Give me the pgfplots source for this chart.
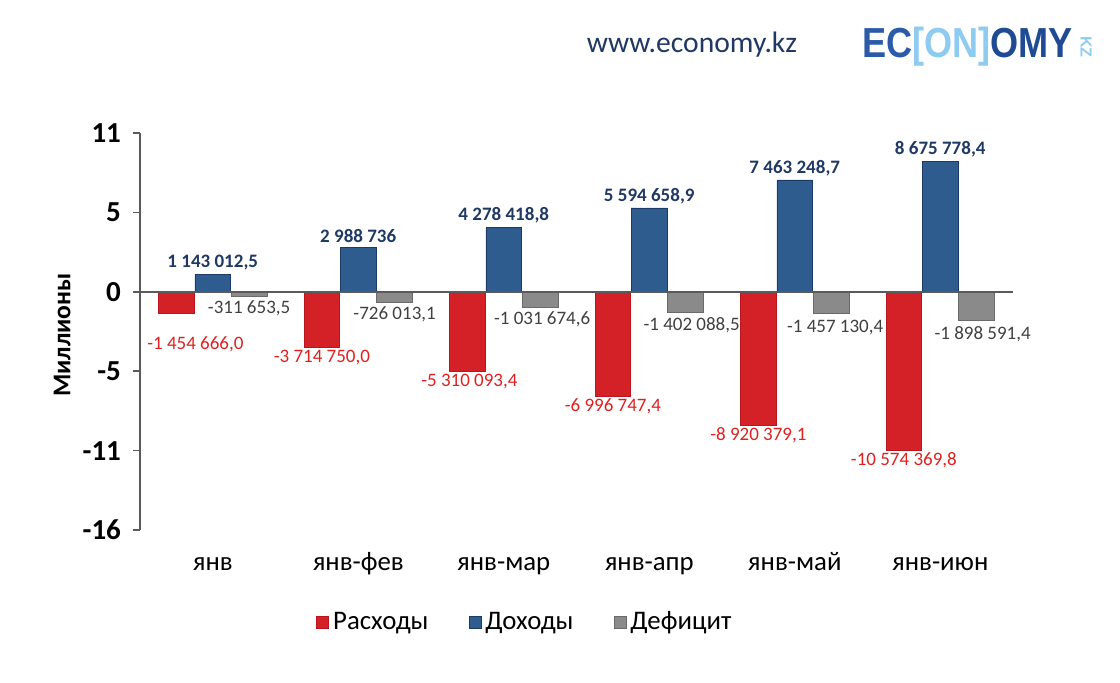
\documentclass[border=0pt]{standalone}
\usepackage{pgfplots}
\pgfplotsset{compat=1.18}
\usepackage{pgfplotstable}
\usepackage{fontspec}
\setmainfont{Carlito}
\newfontfamily\logofont{Liberation Sans}
\definecolor{barred}{HTML}{D42027}
\definecolor{barredline}{HTML}{B8161C}
\definecolor{barblue}{HTML}{2F5C8F}
\definecolor{barblueline}{HTML}{1C3A66}
\definecolor{bargray}{HTML}{8A8A8A}
\definecolor{bargrayline}{HTML}{6A6A6A}
\definecolor{labred}{HTML}{E0201F}
\definecolor{labblue}{HTML}{1F3864}
\definecolor{labgray}{HTML}{404040}
\definecolor{axisgray}{HTML}{5A5A5A}
\definecolor{logoblue}{HTML}{2B5BA8}
\definecolor{logolight}{HTML}{8DCBF0}
\definecolor{logodark}{HTML}{1F4A94}
\definecolor{urlblue}{HTML}{1F3864}

\pgfplotstableread[col sep=semicolon]{
x;y;dx;dy;lab
0;-1.4546660;9.5;-9.5;-1 454 666,0
1;-3.7147500;0;1;-3 714 750,0
2;-5.3100934;1;1;-5 310 093,4
3;-6.9967474;0;1;-6 996 747,4
4;-8.9203791;0;1;-8 920 379,1
5;-10.5743698;0;1;-10 574 369,8
}\redtab
\pgfplotstableread[col sep=semicolon]{
x;y;dx;dy;lab
0;1.1430125;0;0;1 143 012,5
1;2.988736;0;0;2 988 736
2;4.2784188;0;0;4 278 418,8
3;5.5946589;0;0;5 594 658,9
4;7.4632487;0;0;7 463 248,7
5;8.6757784;0;0;8 675 778,4
}\bluetab
\pgfplotstableread[col sep=semicolon]{
x;y;dx;dy;lab
0;-0.3116535;0;0;-311 653,5
1;-0.7260131;0;0;-726 013,1
2;-1.0316746;1;0;-1 031 674,6
3;-1.4020885;3;0;-1 402 088,5
4;-1.4571304;2;-1;-1 457 130,4
5;-1.8985914;3;-1;-1 898 591,4
}\graytab

\begin{document}
\begin{tikzpicture}
\useasboundingbox (-70pt,-76pt) rectangle (490pt,265pt);
\begin{axis}[
  scale only axis, width=436.5pt, height=198.5pt,
  at={(0pt,0pt)}, anchor=south west,
  xmin=-0.5, xmax=5.5, ymin=-15.9, ymax=10.6,
  ybar, bar width=0.245,
  axis y line*=left, axis x line*=bottom,
  x axis line style={draw=none},
  xtick={0,1,2,3,4,5},
  xticklabels={янв,янв-фев,янв-мар,янв-апр,янв-май,янв-июн},
  x tick style={draw=none},
  xticklabel style={font=\fontsize{13.4}{15}\selectfont, anchor=base, yshift=-16.5pt},
  ytick={-15.9,-10.6,-5.3,0,5.3,10.6},
  yticklabels={-16,-11,-5,0,5,11},
  yticklabel style={font=\fontsize{14.5}{16}\selectfont\bfseries, xshift=-2.5pt},
  tick align=outside, major tick length=3.5pt,
  y axis line style={draw=axisgray, line width=0.8pt},
  y tick style={draw=axisgray, line width=0.8pt},
  ylabel={Миллионы},
  ylabel style={font=\fontsize{12.8}{14}\selectfont\bfseries, at={(axis description cs:-0.0893,0.491)}, anchor=center},
  nodes near coords,
  point meta=explicit symbolic,
  visualization depends on={\thisrow{dx}\as\dx},
  visualization depends on={\thisrow{dy}\as\dy},
  every node near coord/.append style={xshift=\dx pt, yshift=\dy pt, font=\fontsize{9.5}{11}\selectfont, inner sep=2pt},
  legend style={at={(axis description cs:0.442,-0.232)}, anchor=center, draw=none, fill=none,
    legend columns=3, font=\fontsize{13.4}{15}\selectfont,
    /tikz/every even column/.append style={column sep=18pt},
    cells={anchor=west}, nodes={inner xsep=2pt}},
  legend image code/.code={\draw[#1] (0pt,-3pt) rectangle (6pt,3pt);},
  clip=false,
]
\addplot[fill=barred, draw=barredline, bar shift=-0.25,
  every node near coord/.append style={text=labred, anchor=north}]
  table[x=x, y=y, meta=lab]{\redtab};
\addlegendentry{Расходы}
\addplot[fill=barblue, draw=barblueline, bar shift=0,
  every node near coord/.append style={text=labblue, anchor=south, font=\fontsize{9.5}{11}\selectfont\bfseries}]
  table[x=x, y=y, meta=lab]{\bluetab};
\addlegendentry{Доходы}
\addplot[fill=bargray, draw=bargrayline, bar shift=0.25,
  every node near coord/.append style={text=labgray, anchor=north}]
  table[x=x, y=y, meta=lab]{\graytab};
\addlegendentry{Дефицит}
\draw[axisgray, line width=1pt] (axis cs:-0.5,0) -- (axis cs:5.5,0);
\end{axis}
\node[text=urlblue, font=\fontsize{14.8}{16}\selectfont] at (276pt,242.5pt) {www.economy.kz};
\node[anchor=west, inner sep=0pt, xscale=0.86, font=\logofont\bfseries\fontsize{21}{22}\selectfont] at (361pt,241.5pt)
  {\textcolor{logoblue}{EC}\textcolor{logolight}{[ON]}\textcolor{logodark}{OMY}};
\node[rotate=-90, inner sep=0pt, text=logolight, font=\logofont\bfseries\fontsize{8}{9}\selectfont] at (473pt,241.5pt) {KZ};
\end{tikzpicture}
\end{document}
